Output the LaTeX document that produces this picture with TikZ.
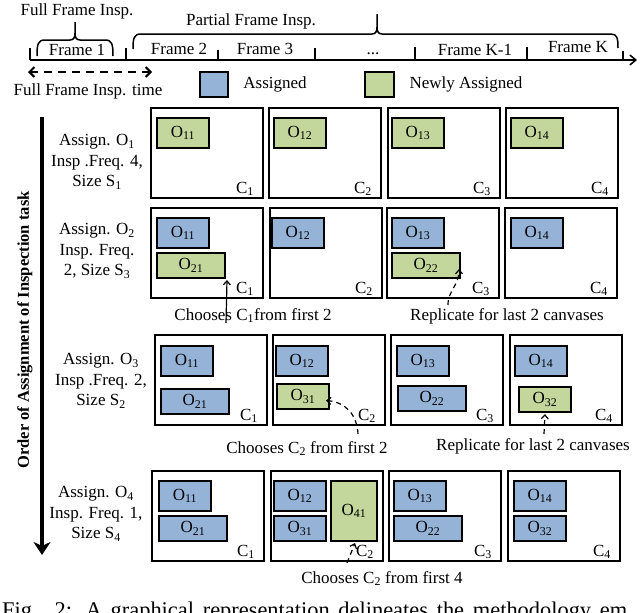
\documentclass[tikz,border=0pt]{standalone}
\usepackage{fontspec}
\setmainfont{Liberation Serif}
\usetikzlibrary{arrows.meta}
\definecolor{blu}{RGB}{149,179,215}
\definecolor{grn}{RGB}{195,214,155}
\newcommand\sbs[1]{\textsubscript{#1}}
\newcommand\fs{\fontsize{17}{20.5}\selectfont}
\tikzset{
 every node/.style={font=\fs},
 canvas/.style={draw, line width=2pt, minimum width=112pt, minimum height=90pt, anchor=north west, inner sep=0pt, outer sep=0pt},
 ob/.style={draw, line width=1.3pt, anchor=north west, inner sep=0pt, outer sep=0pt},
 sq/.style={ob, minimum width=52pt, minimum height=30pt},
 wd/.style={ob, minimum width=68pt, minimum height=25pt},
 sh/.style={ob, minimum width=52pt, minimum height=25pt},
 tl/.style={ob, minimum width=46pt, minimum height=60pt},
 asg/.style={fill=blu}, nw/.style={fill=grn},
 clab/.style={anchor=base east, inner sep=0pt},
 lab/.style={align=center, inner sep=0pt},
 ann/.style={line width=1.2pt, -{Straight Barb[length=4pt,width=7pt]}},
 dsh/.style={dash pattern=on 5pt off 4pt},
 thin1/.style={line width=1.5pt},
}
\begin{document}
\begin{tikzpicture}[x=1pt,y=-1pt]
\useasboundingbox (0,0) rectangle (640,613);
\clip (0,0) rectangle (640,613);
% timeline
\coordinate (tl0) at (30,60);
\coordinate (tl1) at (637,60);
\draw[thin1, -{Straight Barb[length=6pt,width=10pt]}] (tl0) -- (tl1);
\foreach \x/\t in {30/48,126/48,218/50,315/48,415/47,527/47,623/51}
  \draw[thin1] (\x,\t) -- (\x,60);
\node[anchor=base, inner sep=0pt] (fr1) at (77,55) {Frame 1};
\node[anchor=base, inner sep=0pt] (fr2) at (179,54) {Frame 2};
\node[anchor=base, inner sep=0pt] (fr3) at (265,54) {Frame 3};
\node[anchor=base, inner sep=0pt] (fr4) at (373,54) {...};
\node[anchor=base, inner sep=0pt] (fr5) at (475,55) {Frame K-1};
\node[anchor=base, inner sep=0pt] (fr6) at (578,52) {Frame K};
% braces
\draw[thin1] (37,56) .. controls (37,44) and (38,40) .. (45,40) -- (70,40) .. controls (74,40) and (75,37) .. (75,33) -- (75,22);
\draw[thin1] (75,33) .. controls (75,37) and (76,40) .. (80,40) -- (105,40) .. controls (112,40) and (113,44) .. (113,56);
\draw[thin1] (133,49) .. controls (133,38) and (134,34) .. (141,34) -- (372,34) .. controls (376,34) and (377,31) .. (377,27) -- (377,14);
\draw[thin1] (377,27) .. controls (377,31) and (378,34) .. (382,34) -- (611,34) .. controls (617,34) and (618,38) .. (618,48);
\node[anchor=base, inner sep=0pt] (ffi) at (77,16) {Full Frame Insp.};
\node[anchor=base, inner sep=0pt] (pfi) at (251,25) {Partial Frame Insp.};
% full frame time
\coordinate (d0) at (28,72);
\coordinate (d1) at (152,72);
\draw[line width=2pt, dash pattern=on 8pt off 6pt, {Straight Barb[length=5pt,width=10pt]}-{Straight Barb[length=5pt,width=10pt]}] (d0) -- (d1);
\node[anchor=base, inner sep=0pt] (fft) at (88,95) {Full Frame Insp. time};
% legend
\node[ob, asg, minimum width=28pt, minimum height=25pt] (lg1) at (200,72) {};
\node[anchor=base, inner sep=0pt] (lg1t) at (275,88) {Assigned};
\node[ob, nw, minimum width=29pt, minimum height=25pt] (lg2) at (365,72) {};
\node[anchor=base, inner sep=0pt] (lg2t) at (466,88) {Newly Assigned};
% order arrow
\coordinate (va0) at (42,117);
\coordinate (va1) at (42,555);
\draw[line width=3.5pt, -{Stealth[length=13pt,width=17pt,inset=4pt]}] (va0) -- (va1);
\node[rotate=90, font=\fontsize{16.5}{18}\selectfont\bfseries, inner sep=0pt] (vt) at (25,330) {Order of Assignment of Inspection task};
% left labels
\node[lab] (l1) at (97,162) {Assign. O\sbs{1}\\Insp .Freq. 4,\\Size S\sbs{1}};
\node[lab] (l2) at (97,251) {Assign. O\sbs{2}\\Insp. Freq.\\2, Size S\sbs{3}};
\node[lab] (l3) at (101,381) {Assign. O\sbs{3}\\Insp .Freq. 2,\\Size S\sbs{2}};
\node[lab] (l4) at (96,514) {Assign. O\sbs{4}\\Insp. Freq. 1,\\Size S\sbs{4}};
% canvases
\foreach \x [count=\i] in {151,269,388,506} {
  \node[canvas] (r1c\i) at (\x,108) {};
  \node[clab] (r1l\i) at ([shift={(-9,-5)}]r1c\i.south east) {C\sbs{\i}};}
\foreach \x [count=\i] in {151,270,387,505} {
  \node[canvas] (r2c\i) at (\x,208) {};
  \node[clab] (r2l\i) at ([shift={(-9,-5)}]r2c\i.south east) {C\sbs{\i}};}
\foreach \x [count=\i] in {155,273,391,510} {
  \node[canvas] (r3c\i) at (\x,335) {};
  \node[clab] (r3l\i) at ([shift={(-9,-5)}]r3c\i.south east) {C\sbs{\i}};}
\foreach \x [count=\i] in {152,271,389,508} {
  \node[canvas] (r4c\i) at (\x,471) {};
  \node[clab] (r4l\i) at ([shift={(-9,-5)}]r4c\i.south east) {C\sbs{\i}};}
% row 1 objects
\node[sq,nw] (r1o11) at (157,118) {O\sbs{11}};
\node[sq,nw] (r1o12) at (274,118) {O\sbs{12}};
\node[sq,nw] (r1o13) at (392,118) {O\sbs{13}};
\node[sq,nw] (r1o14) at (511,118) {O\sbs{14}};
% row 2
\node[sq,asg] (r2o11) at (157,218) {O\sbs{11}};
\node[wd,nw] (r2o21) at (157,253) {O\sbs{21}};
\node[sq,asg] (r2o12) at (272,218) {O\sbs{12}};
\node[sq,asg] (r2o13) at (392,218) {O\sbs{13}};
\node[wd,nw] (r2o22) at (392,253) {O\sbs{22}};
\node[sq,asg] (r2o14) at (511,218) {O\sbs{14}};
% row 3
\node[sq,asg] (r3o11) at (161,346) {O\sbs{11}};
\node[wd,asg] (r3o21) at (161,389) {O\sbs{21}};
\node[sq,asg] (r3o12) at (276,346) {O\sbs{12}};
\node[sh,nw] (r3o31) at (277,384) {O\sbs{31}};
\node[sq,asg] (r3o13) at (397,346) {O\sbs{13}};
\node[wd,asg] (r3o22) at (398,386) {O\sbs{22}};
\node[sq,asg] (r3o14) at (515,346) {O\sbs{14}};
\node[sh,nw] (r3o32) at (519,387) {O\sbs{32}};
% row 4
\node[sq,asg] (r4o11) at (159,481) {O\sbs{11}};
\node[wd,asg] (r4o21) at (159,516) {O\sbs{21}};
\node[sq,asg] (r4o12) at (274,481) {O\sbs{12}};
\node[sh,asg] (r4o31) at (274,516) {O\sbs{31}};
\node[tl,nw] (r4o41) at (331,481) {O\sbs{41}};
\node[sq,asg] (r4o13) at (394,481) {O\sbs{13}};
\node[wd,asg] (r4o22) at (394,516) {O\sbs{22}};
\node[sq,asg] (r4o14) at (514,481) {O\sbs{14}};
\node[sh,asg] (r4o32) at (514,516) {O\sbs{32}};
% annotations
\node[anchor=base, inner sep=0pt] (a1) at (253,320) {Chooses C\sbs{1}from first 2};
\node[anchor=base, inner sep=0pt] (a2) at (507,320) {Replicate for last 2 canvases};
\node[anchor=base, inner sep=0pt] (a3) at (307,453) {Chooses C\sbs{2} from first 2};
\node[anchor=base, inner sep=0pt] (a4) at (533,450) {Replicate for last 2 canvases};
\node[anchor=base, inner sep=0pt] (a5) at (382,583) {Chooses C\sbs{2} from first 4};
\coordinate (p1) at (226,323);
\draw[ann] (p1) -- ([shift={(2,2)}]r2o21.south east);
\coordinate (p2) at (448,305);
\draw[ann,dsh] (p2) .. controls (448,290) and (459,286) .. ([shift={(-1,-9)}]r2o22.south east);
\coordinate (p3) at (358,434);
\draw[ann,dsh] (p3) .. controls (357,414) and (345,402) .. ([shift={(-3,4)}]r3o31.east);
\coordinate (p4) at (544,434);
\draw[ann,dsh] (p4) -- ([shift={(0,2)}]r3o32.south);
\coordinate (p5) at (347,563);
\draw[ann,dsh] (p5) -- ([shift={(1,2)}]r4o41.south);
% caption (cut off at the lower edge, as in the reference)
\node[anchor=base west, inner sep=0pt, font=\fontsize{22.4}{26}\selectfont] (cap) at (2,617) {\makebox[625pt][s]{Fig. 2: A graphical representation delineates the methodology em}};
\end{tikzpicture}
\end{document}
